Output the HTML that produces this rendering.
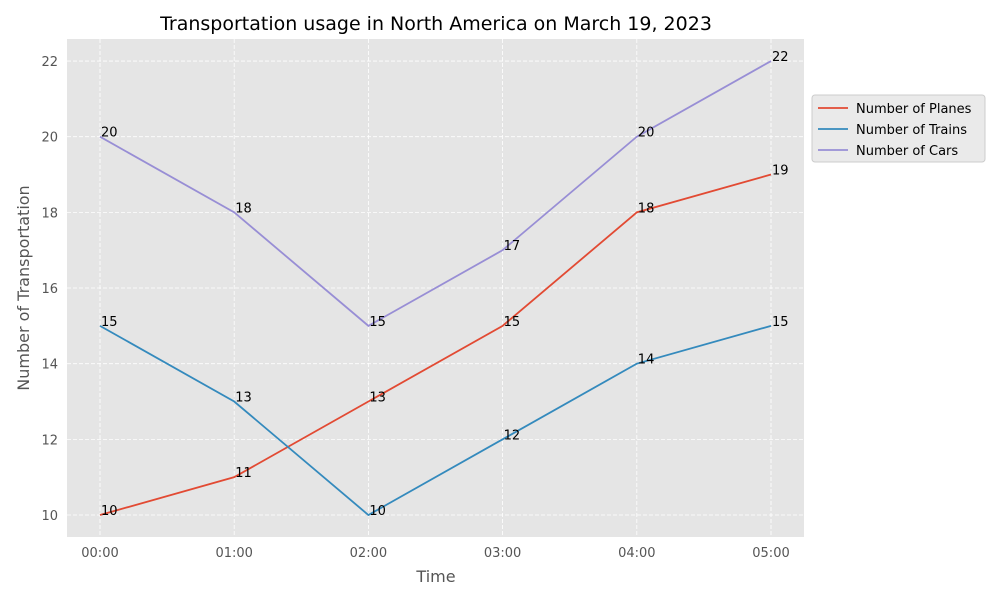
<!DOCTYPE html>
<html><head><meta charset="utf-8"><style>
body{margin:0;background:#fff;font-family:"Liberation Sans","DejaVu Sans",sans-serif}
svg text{font-family:"DejaVu Sans","Liberation Sans",sans-serif}
</style></head><body>
<svg id="c" width="1000" height="600" xmlns="http://www.w3.org/2000/svg">
<rect x="67" y="39" width="737" height="498" fill="#e5e5e5"/>
<g id="grid"></g><g id="lines"></g><g id="labels"></g><g id="ticks"></g>
<text x="436" y="30" text-anchor="middle" font-size="19" fill="#000">Transportation usage in North America on March 19, 2023</text>
<text x="436" y="582" text-anchor="middle" font-size="16" fill="#555">Time</text>
<text transform="translate(29,288) rotate(-90)" text-anchor="middle" font-size="16" fill="#555">Number of Transportation</text>
<g>
<rect x="812" y="95" width="173" height="67" rx="3" fill="#e5e5e5" stroke="#ccc" fill-opacity="0.8"/>
<g id="leg"></g>
</g>
</svg>
<script>
const categories=["00:00","01:00","02:00","03:00","04:00","05:00"];
const planes=[10,11,13,15,18,19];
const trains=[15,13,10,12,14,15];
const cars=[20,18,15,17,20,22];
const yTicks=[10,12,14,16,18,20,22];
const seriesNames=["Number of Planes","Number of Trains","Number of Cars"];
const NS="http://www.w3.org/2000/svg";
const xs=i=>100+i*134.2;
const ys=v=>515-(v-10)*37.83;
function mk(p,t,a){const e=document.createElementNS(NS,t);for(const k in a)e.setAttribute(k,a[k]);document.getElementById(p).appendChild(e);return e;}
yTicks.forEach(v=>{
 const g=mk("grid","line",{x1:67,x2:804,y1:ys(v),y2:ys(v),stroke:"#fff","stroke-dasharray":"4,2","stroke-width":0.8});
 
 
 const t=mk("ticks","text",{x:58,y:ys(v)+5,"text-anchor":"end","font-size":13,fill:"#555"});t.textContent=v;
 
 
});
categories.forEach((c,i)=>{
 const g=mk("grid","line",{x1:xs(i),x2:xs(i),y1:39,y2:537,stroke:"#fff","stroke-dasharray":"4,2","stroke-width":0.8});
 
 
 const t=mk("ticks","text",{x:xs(i),y:557,"text-anchor":"middle","font-size":13,fill:"#555"});t.textContent=c;
 
 
});
const colors=["#e24a33","#348abd","#988ed5"];
[planes,trains,cars].forEach((s,k)=>{
 const l=mk("lines","polyline",{points:s.map((v,i)=>xs(i)+","+ys(v)).join(" "),fill:"none",stroke:colors[k],"stroke-width":1.8});
 
 
 s.forEach((v,i)=>{
  const t=mk("labels","text",{x:xs(i)+1,y:ys(v),"font-size":13,fill:"#000"});t.textContent=v;
  
  
 });
 const y=108+k*21;
 const ll=mk("leg","line",{x1:818,x2:848,y1:y,y2:y,stroke:colors[k],"stroke-width":1.8});
 
 
 const lt=mk("leg","text",{x:856,y:y+5,"font-size":13,fill:"#000"});lt.textContent=seriesNames[k];
 
 
});
</script>
</body></html>
